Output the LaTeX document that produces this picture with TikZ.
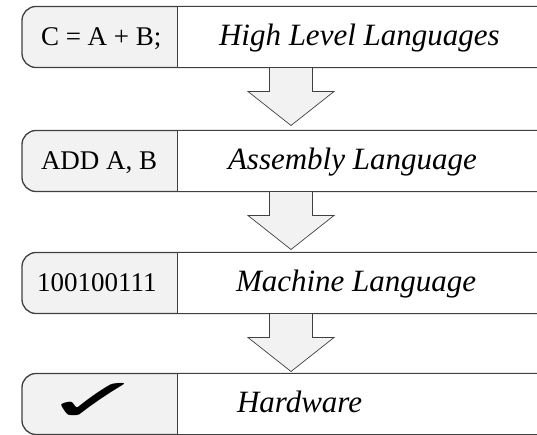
\documentclass[tikz,border=0pt]{standalone}
\usepackage{fontspec}
\setmainfont{Liberation Serif}
\newfontfamily\symfont{DejaVu Sans}
\usepackage{tikz}
\usetikzlibrary{calc}
\definecolor{framegray}{RGB}{64,64,64}
\definecolor{codegray}{RGB}{242,242,242}

\begin{document}
\begin{tikzpicture}[x=1pt,y=-1pt,every node/.style={inner sep=0pt,outer sep=0pt},
  band/.style={draw=framegray,line width=1.3pt,fill=codegray,rounded corners=14pt,minimum width=560pt,minimum height=61pt,anchor=west},
  langbox/.style={fill=white,minimum width=420pt,minimum height=59.7pt,anchor=west},
  divider/.style={draw=framegray,line width=0.8pt},
  codetext/.style={font=\fontsize{27}{32}\selectfont,anchor=base west},
  langtext/.style={font=\fontsize{31}{37}\selectfont\itshape,anchor=base west},
  blockarrow/.style={draw=framegray,line width=0.7pt,fill=codegray}]
\useasboundingbox (0,0) rectangle (537,435);
\clip (0,0) rectangle (537,435);
% the four levels
\node[band] (band1) at (22,37) {};
\node[band] (band2) at (22,161) {};
\node[band] (band3) at (22,283) {};
\node[band] (band4) at (22,404) {};
% block arrows between levels
\foreach \a/\b in {band1/band2,band2/band3,band3/band4}{
  \coordinate (s) at ($(\a.south west)+(269,0)$);
  \filldraw[blockarrow] ($(s)+(-21.5,0)$) -- ++(0,24) -- ++(-21.5,0) -- ($(s)+(0,58)$)
    -- ++(43,-34) -- ++(-21.5,0) -- ++(0,-24);
}
% redraw band outlines over the arrow tops
\foreach \n in {1,2,3,4}{
  \draw[framegray,line width=1.3pt] (band\n.north west) ++(14,0) -- ++(560,0);
  \draw[framegray,line width=1.3pt] (band\n.south west) ++(14,0) -- ++(560,0);
}
\node[langbox] (lang1) at (177,37) {};
\node[langbox] (lang2) at (177,161) {};
\node[langbox] (lang3) at (177,283) {};
\node[langbox] (lang4) at (177,404) {};
\foreach \n in {1,2,3,4}{
  \draw[divider] (lang\n.north west) -- (lang\n.south west);
}
% texts
\node[codetext] (code1) at (41,45.5) {C = A + B;};
\node[codetext] (code2) at (41,169.5) {ADD A, B};
\node[codetext] (code3) at (37,291.5) {100100111};
\node[font=\symfont\fontsize{54}{58}\selectfont,xscale=2.25,yscale=1.12,
  text height=0.6em,text depth=0pt,anchor=base] (code4) at (94,421) {✓};
\node[langtext] (name1) at (219,45.5) {High Level Languages};
\node[langtext] (name2) at (228,169.5) {Assembly Language};
\node[langtext] (name3) at (236,291.5) {Machine Language};
\node[langtext] (name4) at (237,412) {Hardware};
\end{tikzpicture}
\end{document}
